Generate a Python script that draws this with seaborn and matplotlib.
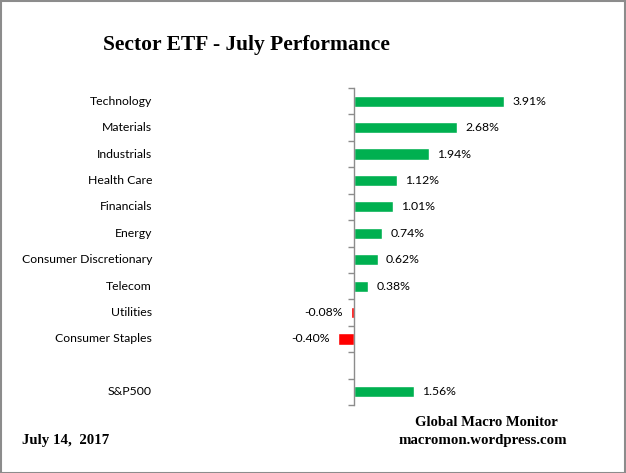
import pandas as pd
import seaborn as sns
import matplotlib.pyplot as plt
from matplotlib.patches import Rectangle
from matplotlib.transforms import blended_transform_factory

# Data
sectors = ['Technology', 'Materials', 'Industrials', 'Health Care', 'Financials',
           'Energy', 'Consumer Discretionary', 'Telecom', 'Utilities',
           'Consumer Staples', 'S&P500']
returns = [3.91, 2.68, 1.94, 1.12, 1.01, 0.74, 0.62, 0.38, -0.08, -0.40, 1.56]

# blank slot between sectors and the index
order = sectors[:-1] + [' '] + sectors[-1:]

df = pd.DataFrame({'Sector': sectors, 'Return': returns})
palette = {s: ('#00B050' if r >= 0 else '#FF0000') for s, r in zip(sectors, returns)}

sns.set_style('white')
plt.rcParams['font.family'] = ['Lato', 'DejaVu Sans']
plt.rcParams['text.color'] = 'black'

W, H = 626, 473
fig = plt.figure(figsize=(W / 100, H / 100), dpi=100)

# plot area in pixel coords
left, right, top, bottom = 161, 585, 88, 405
ax = fig.add_axes([left / W, 1 - bottom / H, (right - left) / W, (bottom - top) / H])

sns.barplot(data=df, x='Return', y='Sector', hue='Sector', order=order,
            palette=palette, orient='h', width=0.42, saturation=1,
            legend=False, ax=ax)

ax.set_xlim(-5, 6)
ax.set_ylim(11.5, -0.5)
ax.set_xlabel('')
ax.set_ylabel('')
ax.set_xticks([])

for s in ['top', 'right', 'bottom']:
    ax.spines[s].set_visible(False)
ax.spines['left'].set_position(('data', 0))
ax.spines['left'].set_color('#8c8c8c')
ax.spines['left'].set_linewidth(1.0)

ax.set_yticks(range(len(order)))
ax.set_yticklabels([])
ax.tick_params(axis='y', which='major', length=0)
ax.set_yticks([i - 0.5 for i in range(len(order) + 1)], minor=True)
ax.tick_params(axis='y', which='minor', left=True, length=4, width=1.0,
               color='#8c8c8c', direction='out')

# category labels at the left of the plot area
trans = blended_transform_factory(ax.transAxes, ax.transData)
for i, name in enumerate(order):
    if name.strip():
        ax.text(-9 / (right - left), i, name, transform=trans, ha='right',
                va='center', fontsize=8.8, color='black')

# value labels
for name, r in zip(sectors, returns):
    y = order.index(name)
    if r >= 0:
        ax.annotate(f'{r:.2f}%', (r, y), xytext=(6, 0), textcoords='offset points',
                    ha='left', va='center', fontsize=8.8, color='black')
    else:
        ax.annotate(f'{r:.2f}%', (r, y), xytext=(-6, 0), textcoords='offset points',
                    ha='right', va='center', fontsize=8.8, color='black')

serif = ['Liberation Serif', 'DejaVu Serif']
fig.text(246 / W, 1 - 45 / H, 'Sector ETF - July Performance', ha='center',
         va='center', fontsize=15.5, fontweight='bold', family=serif)
fig.text(486 / W, 1 - 422 / H, 'Global Macro Monitor', ha='center', va='center',
         fontsize=10.5, fontweight='bold', family=serif)
fig.text(483 / W, 1 - 440 / H, 'macromon.wordpress.com', ha='center', va='center',
         fontsize=10.7, fontweight='bold', family=serif)
fig.text(22 / W, 1 - 440 / H, 'July 14,  2017', ha='left', va='center',
         fontsize=10.7, fontweight='bold', family=serif)

# chart border
fig.patches.append(Rectangle((0.5 / W, 0.5 / H), 1 - 1.5 / W, 1 - 1.5 / H,
                             transform=fig.transFigure, fill=False,
                             edgecolor='#8c8c8c', linewidth=1.5))

fig.savefig('out.png', dpi=100)
